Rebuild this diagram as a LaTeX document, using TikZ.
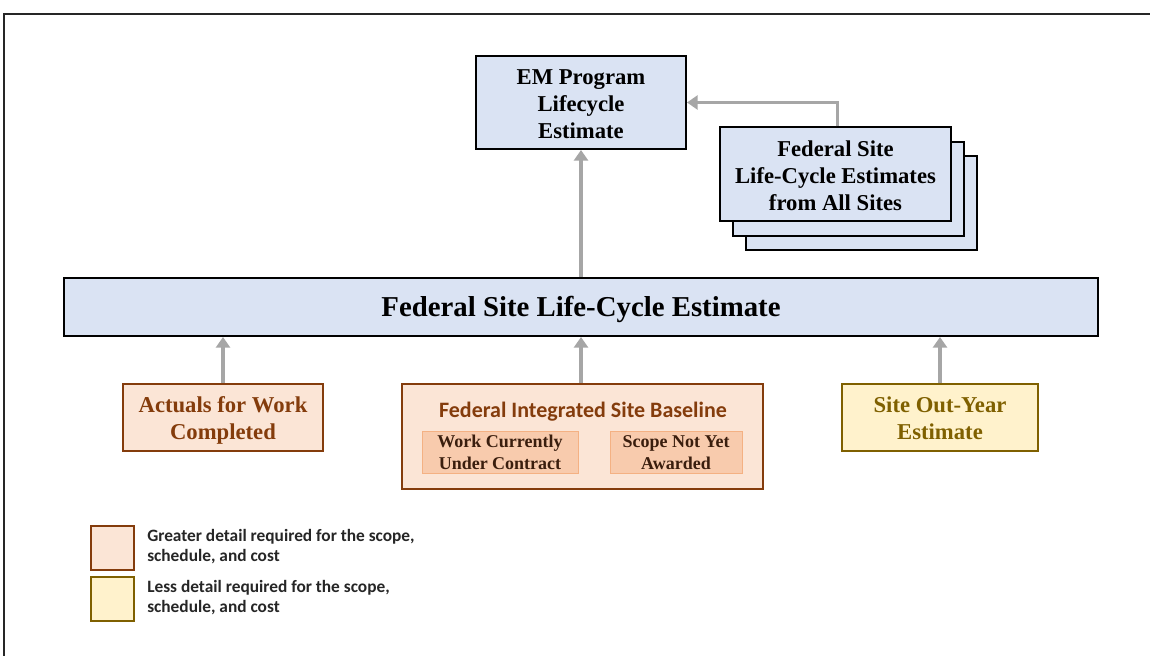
\documentclass[tikz,border=0pt]{standalone}
\usepackage{fontspec}
\setmainfont{Liberation Serif}
\newfontfamily\calib{Carlito}
\usetikzlibrary{arrows.meta}
\definecolor{bluefill}{HTML}{DAE3F3}
\definecolor{pinkfill}{HTML}{FBE5D6}
\definecolor{brownline}{HTML}{843C0C}
\definecolor{innerfill}{HTML}{F8CBAD}
\definecolor{innerline}{HTML}{F4B183}
\definecolor{yellowfill}{HTML}{FFF2CC}
\definecolor{olive}{HTML}{7F6000}
\definecolor{arrowgray}{HTML}{A6A6A6}
\definecolor{innertext}{HTML}{3A1E0E}
\definecolor{legtext}{HTML}{262626}
\tikzset{
  bluebox/.style={draw=black, line width=1.5pt, fill=bluefill, align=center, font=\bfseries\fontsize{17}{20.25}\selectfont, inner sep=0pt},
  pinkbox/.style={draw=brownline, line width=1.5pt, fill=pinkfill, align=center, text=brownline, font=\bfseries\fontsize{17}{20.25}\selectfont, inner sep=0pt},
  yellowbox/.style={draw=olive, line width=1.5pt, fill=yellowfill, align=center, text=olive, font=\bfseries\fontsize{17}{20.25}\selectfont, inner sep=0pt},
  innerbox/.style={draw=innerline, line width=0.75pt, fill=innerfill, align=center, text=innertext, font=\bfseries\fontsize{13.5}{16.5}\selectfont, inner sep=0pt, minimum width=#1, minimum height=31.5pt},
  conn/.style={draw=arrowgray, line width=2.6pt, -{Triangle[width=10.5pt,length=8pt]}},
  legtxt/.style={anchor=west, align=left, text=legtext, font=\calib\bfseries\fontsize{13}{15}\selectfont, inner sep=0pt},
}
\begin{document}
\begin{tikzpicture}[x=0.75pt,y=-0.75pt]
\useasboundingbox (0,0) rectangle (1150,656);
\fill[white] (0,0) rectangle (1150,656);
\draw[line width=1.6pt, black!85] (4,656) -- (4,14) -- (1150,14);

% top
\node[bluebox, minimum width=157.5pt, minimum height=69.75pt] (em) at (581,102.5) {\rule{0pt}{14.3pt}EM Program\\Lifecycle\\Estimate};
\node[bluebox, minimum width=173.25pt, minimum height=70.5pt] (s3) at (861.5,203.5) {};
\node[bluebox, minimum width=173.25pt, minimum height=70.5pt] (s2) at (848.5,189) {};
\node[bluebox, minimum width=173.25pt, minimum height=70.5pt] (front) at (835.5,174.5) {\rule{0pt}{13pt}Federal Site\\Life-Cycle Estimates\\from All Sites};

% bar
\node[bluebox, minimum width=775.5pt, minimum height=43.5pt, font=\bfseries\fontsize{21.6}{26}\selectfont] (bar) at (581,307) {\rule{0pt}{19pt}Federal Site Life-Cycle Estimate};

% bottom
\node[pinkbox, minimum width=150pt, minimum height=50.25pt] (act) at (223,417.5) {\rule{0pt}{15.8pt}Actuals for Work\\Completed};
\node[pinkbox, minimum width=270.75pt, minimum height=78.75pt] (fisb) at (582.5,436.5) {};
\node[text=brownline, font=\calib\bfseries\fontsize{16.5}{19}\selectfont, inner sep=0pt] (fisbt) at (583,411.5) {Federal Integrated Site Baseline};
\node[innerbox=117pt] (work) at (500,452.5) {Work Currently\\Under Contract};
\node[innerbox=99pt] (scope) at (676,452.5) {Scope Not Yet\\Awarded};
\node[yellowbox, minimum width=147pt, minimum height=50.25pt] (site) at (940,417.5) {\rule{0pt}{13pt}Site Out-Year\\Estimate};

% connectors
\draw[conn] (bar.north) -- (em.south);
\draw[conn] ([xshift=1.5pt]front.north) |- (em.east);
\draw[conn] (act.north) -- (act.north |- bar.south);
\draw[conn] (fisb.north -| bar.north) -- (bar.south);
\draw[conn] (site.north) -- (site.north |- bar.south);

% legend
\node[draw=brownline, line width=1.5pt, fill=pinkfill, minimum width=32.25pt, minimum height=33pt, inner sep=0pt] (leg1) at (112.5,548) {};
\node[draw=olive, line width=1.5pt, fill=yellowfill, minimum width=32.25pt, minimum height=33pt, inner sep=0pt] (leg2) at (112.5,599) {};
\node[legtxt] (leg1t) at (147,547) {Greater detail required for the scope,\\schedule, and cost};
\node[legtxt] (leg2t) at (147,598) {Less detail required for the scope,\\schedule, and cost};
\end{tikzpicture}
\end{document}
